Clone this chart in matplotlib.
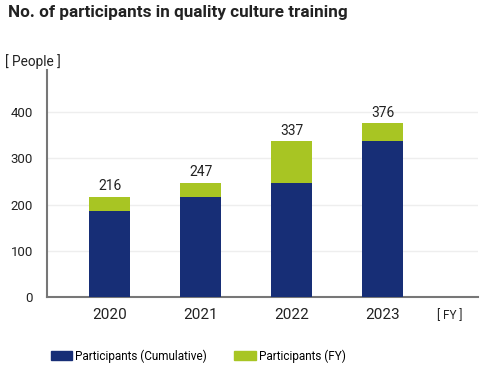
import matplotlib.pyplot as plt
from matplotlib.patches import Patch

plt.rcParams['font.family'] = ['Roboto', 'DejaVu Sans']

years = ["2020", "2021", "2022", "2023"]
cumulative = [187, 216, 247, 337]
fiscal_year = [29, 31, 90, 39]
totals = [216, 247, 337, 376]

navy = "#172e76"
green = "#a8c523"

fig = plt.figure(figsize=(5, 3.7), dpi=100)
ax = fig.add_axes([0.094, 0.198, 0.862, 0.613])

x = range(len(years))
ax.bar(x, cumulative, width=0.45, color=navy, zorder=3)
ax.bar(x, fiscal_year, bottom=cumulative, width=0.45, color=green, zorder=3)
for i, t in enumerate(totals):
    ax.text(i, t + 8, str(t), ha="center", va="bottom", fontsize=10, color="#222222")

ax.set_xlim(-0.69, 4.05)
ax.set_ylim(0, 492)
ax.set_yticks([0, 100, 200, 300, 400])
ax.set_xticks(list(x))
ax.set_xticklabels(years, fontsize=11, color="#222222")
ax.tick_params(axis="y", labelsize=9.5, colors="#222222", length=0, pad=10)
ax.tick_params(axis="x", length=0, pad=8)
ax.grid(axis="y", color="#eeeeee", linewidth=1, zorder=0)
for s in ["top", "right"]:
    ax.spines[s].set_visible(False)
for s in ["left", "bottom"]:
    ax.spines[s].set_color("#777777")
    ax.spines[s].set_linewidth(1.5)

fig.text(0.016, 0.967, "No. of participants in quality culture training",
         fontsize=12.3, fontweight="bold", color="#222222", va="center")
fig.text(0.01, 0.833, "[ People ]", fontsize=9.8, color="#222222", va="center")
fig.text(0.874, 0.147, "[ FY ]", fontsize=8.5, color="#222222", va="center")

handles = [Patch(color=navy, label="Participants (Cumulative)"),
           Patch(color=green, label="Participants (FY)")]
fig.legend(handles=handles, loc="center left", bbox_to_anchor=(0.08, 0.038), ncol=2,
           frameon=False, fontsize=8.5, handlelength=1.8, handleheight=0.9,
           handletextpad=0.3, columnspacing=2.3)

fig.savefig("out.png")
